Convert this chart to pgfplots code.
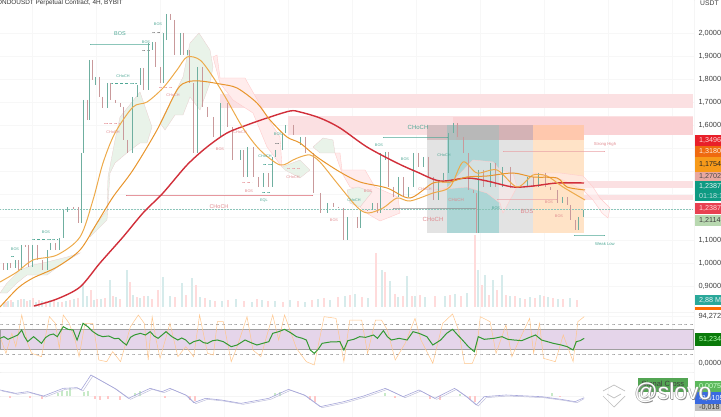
\documentclass[border=0pt]{standalone}
\usepackage{pgfplots}
\pgfplotsset{compat=1.18}
\usepackage{pgfplotstable}
\usepackage{fontspec}
\setmainfont{Liberation Sans}
\definecolor{cup}{HTML}{6FAFA0}
\definecolor{cdn}{HTML}{C9999B}
\definecolor{tl}{HTML}{4FA795}
\definecolor{pk}{HTML}{E08A8F}
\definecolor{zone}{HTML}{FBE0E2}
\definecolor{zone2}{HTML}{FAD2D5}
\definecolor{ma1}{HTML}{EDAA4A}
\definecolor{ma2}{HTML}{E8952C}
\definecolor{ma3}{HTML}{D12F3A}
\definecolor{rsib}{HTML}{E5D5EA}
\definecolor{lnred}{HTML}{D9606A}
\definecolor{lnpk}{HTML}{E9A0A5}
\definecolor{lndot}{HTML}{8CC5BA}
\definecolor{lngray}{HTML}{8A8A8A}
\definecolor{lnd}{HTML}{A0A0A0}
\definecolor{lnsep}{HTML}{EFEFEF}
\pgfplotstableread{
x t b
7 263 270
15 260 268
21 245 270
32 245 267
47 250 270
50 243 250
59 238 250
63 210 238
67 207 212
81 153 223
83 100 153
89 60 120
95 77 85
107 83 108
132 97 153
137 85 97
140 68 85
148 43 90
152 42 50
163 33 83
166 14 40
180 33 55
187 50 55
197 67 153
220 103 137
240 150 160
247 147 177
263 173 187
272 157 187
275 150 157
282 133 150
285 125 133
300 137 145
327 203 213
347 217 240
360 210 228
372 203 210
380 153 213
385 152 160
398 177 197
408 187 197
413 153 187
423 157 167
438 180 200
443 173 180
448 133 173
453 123 133
478 170 233
490 163 187
502 167 187
527 177 187
538 173 187
562 197 203
578 217 230
583 210 217
}\candup
\pgfplotstableread{
x t b
3 263 270
10 263 268
18 260 270
25 245 247
28 245 267
37 245 260
42 260 270
55 243 250
73 207 209
78 207 223
87 100 120
92 60 80
99 77 97
102 97 108
110 83 100
115 100 103
120 103 107
123 107 140
127 140 153
143 68 90
155 42 67
160 67 83
170 14 20
174 20 55
183 33 55
189 50 83
193 83 153
202 67 107
207 107 117
213 117 137
227 103 127
232 127 160
243 150 177
253 147 177
258 177 187
268 173 187
293 125 135
305 137 153
313 153 193
320 193 213
333 203 207
338 207 208
343 208 240
357 217 228
367 210 211
377 203 213
388 152 187
393 187 197
403 177 197
418 153 167
428 157 177
433 177 200
457 123 137
463 137 153
468 153 190
473 190 193
476 193 233
483 170 187
495 163 187
510 167 188
517 187 188
533 177 187
545 173 187
550 187 190
557 190 203
567 197 205
570 205 220
575 220 230
}\canddn
\pgfplotstableread{
x t
4 303
8 301
13 302
18 300
24 299
30 300
36 302
42 301
50 300
58 302
66 301
74 299
83 285
87 296
94 300
101 299
110 280
116 297
127 270
133 295
140 298
148 296
163 277
170 296
182 283
192 278
200 297
210 300
222 301
236 299
252 302
262 300
275 301
290 300
305 302
318 299
330 300
345 296
355 294
368 298
382 270
390 281
398 297
407 276
415 296
425 297
445 296
455 294
467 293
478 270
485 275
493 280
502 275
510 296
520 298
530 297
540 295
548 297
558 299
570 298
}\volup
\pgfplotstableread{
x t
6 302
11 300
21 299
27 301
33 298
39 300
46 301
54 299
62 302
70 300
78 298
91 290
97 299
105 298
113 296
120 299
130 282
137 297
144 296
152 299
158 290
175 297
186 295
196 285
205 298
215 301
228 300
244 301
257 299
268 301
283 302
298 301
312 300
324 298
338 297
350 295
362 297
376 253
385 272
395 294
403 296
412 296
420 295
435 296
450 295
461 296
475 235
482 285
489 295
497 290
506 295
515 296
525 299
535 298
544 296
553 298
563 299
577 300
}\voldn
\begin{document}
\begin{tikzpicture}
\clip (0,0) rectangle (721pt,417pt);
\begin{axis}[
  at={(0,0)},anchor=south west,
  scale only axis,width=694pt,height=417pt,
  xmin=0,xmax=694,ymin=0,ymax=417,y dir=reverse,
  clip=false,
  axis line style={draw=none},
  tick style={draw=none},
  xtick={32,96,160,224,288,352,416,480,544,608,672},
  xticklabels={},
  ytick={33,56,79,102,125,148,171,194,217,240,263,286,316,363},
  yticklabels={{2,0000},{1,9000},{1,8000},{1,7000},{1,6000},{},{},{},{},{1,1000},{1,0000},{0,9000},{94,272},{0,0000}},
  yticklabel pos=right,
  yticklabel style={font=\fontsize{7.4}{8}\selectfont,text=black!75,anchor=west,xshift=1pt},
  major grid style={draw=black!3,line width=.4pt},
  grid=major,
]
% --- supply zones
\addplot[fill=zone,draw=none,forget plot] coordinates {(220,94)(693,94)(693,108)(220,108)} -- cycle;
\addplot[fill=zone,draw=none,forget plot] coordinates {(288,116)(693,116)(693,135)(288,135)} -- cycle;
\addplot[fill=zone2,draw=none,forget plot] coordinates {(453,117)(693,117)(693,135)(453,135)} -- cycle;
\addplot[fill=zone,draw=none,forget plot] coordinates {(580,181)(693,181)(693,188)(580,188)} -- cycle;
\addplot[fill=zone,draw=none,forget plot] coordinates {(580,195)(693,195)(693,200)(580,200)} -- cycle;
% --- date range boxes
\addplot[fill=black!11,draw=none,forget plot] coordinates {(427,140)(447,140)(447,233)(427,233)} -- cycle;
\addplot[fill=teal!32!white,draw=none,forget plot] coordinates {(447,140)(499,140)(499,233)(447,233)} -- cycle;
\addplot[fill=black!11,draw=none,forget plot] coordinates {(499,140)(533,140)(533,233)(499,233)} -- cycle;
\addplot[fill=orange!22!white,draw=none,forget plot] coordinates {(533,140)(584,140)(584,233)(533,233)} -- cycle;
\addplot[fill=black!15!zone,draw=none,forget plot] coordinates {(427,125)(447,125)(447,140)(427,140)} -- cycle;
\addplot[fill=teal!30!black!30,draw=none,forget plot] coordinates {(447,125)(456,125)(456,140)(447,140)} -- cycle;
\addplot[fill=black!28,draw=none,forget plot] coordinates {(456,125)(499,125)(499,140)(456,140)} -- cycle;
\addplot[fill=black!15!zone2,draw=none,forget plot] coordinates {(499,125)(533,125)(533,140)(499,140)} -- cycle;
\addplot[fill=red!35!orange!32,draw=none,forget plot] coordinates {(533,125)(584,125)(584,140)(533,140)} -- cycle;
% --- ichimoku cloud
\pgfplotsset{gc/.style={fill=green!30!gray!13,draw=red!35!gray!28,line width=.3pt,forget plot},
             pc/.style={fill=red!55!pink!11,draw=red!50!pink!32,line width=.4pt,forget plot}}
\addplot[gc] coordinates {(0,293)(7,283)(20,270)(33,265)(47,262)(67,257)(80,253)(63,263)(47,275)(27,275)(17,283)(7,293)} -- cycle;
\addplot[gc] coordinates {(90,233)(107,210)(108,177)(115,140)(120,117)(140,92)(152,127)(147,143)(140,143)(128,152)(115,163)(110,173)(107,220)(90,237)} -- cycle;
\addplot[gc] coordinates {(160,123)(170,103)(183,77)(190,43)(199,33)(210,50)(213,67)(210,83)(200,110)(190,97)(183,115)(175,115)(165,130)} -- cycle;
\addplot[pc] coordinates {(213,57)(217,55)(220,78)(245,78)(267,117)(280,137)(282,167)(267,147)(253,113)(233,100)(220,83)} -- cycle;
\addplot[gc] coordinates {(282,167)(300,160)(310,170)(300,178)(285,170)} -- cycle;
\addplot[gc] coordinates {(313,147)(323,138)(333,140)(335,153)(320,153)} -- cycle;
\addplot[pc] coordinates {(335,153)(340,153)(342,170)(365,170)(375,187)(398,197)(400,213)(380,221)(368,214)(360,207)(372,192)(350,187)(342,173)} -- cycle;
\addplot[gc] coordinates {(347,190)(358,187)(372,192)(360,207)(350,203)} -- cycle;
\addplot[pc,fill opacity=.5] coordinates {(433,190)(447,188)(457,177)(473,160)(493,162)(500,170)(513,173)(517,187)(503,213)(500,203)(487,193)(467,187)} -- cycle;
\addplot[pc,fill opacity=.6] coordinates {(533,173)(560,173)(583,176)(593,187)(600,198)(610,208)(608,218)(602,213)(593,200)(583,190)(563,180)} -- cycle;
% --- structure lines
\pgfplotsset{hl/.style={forget plot,smooth}}
\addplot[tl,hl,line width=.8pt] table[row sep=\\] {90 44\\150 44\\};
\addplot[tl,hl,line width=.8pt] table[row sep=\\] {383 137\\448 137\\};
\addplot[lnred,hl,line width=.7pt] table[row sep=\\] {126 195\\313 195\\};
\addplot[lngray,hl,line width=.6pt] table[row sep=\\] {393 208\\477 208\\};
\addplot[lnpk,hl,line width=.6pt] table[row sep=\\] {503 151\\605 151\\};
\addplot[lnpk,hl,line width=.6pt] table[row sep=\\] {497 199\\557 199\\};
\addplot[tl,hl,line width=.8pt] table[row sep=\\] {574 235\\605 235\\};
\addplot[lndot,hl,densely dotted,line width=.5pt] table[row sep=\\] {0 209\\693 209\\};
\pgfplotsset{dd/.style={hl,densely dashed,line width=.45pt}}
\addplot[lngray,dd] table[row sep=\\] {152 32\\162 32\\};
\addplot[lngray,dd] table[row sep=\\] {142 50\\150 50\\};
\addplot[tl,dd] table[row sep=\\] {110 83\\137 83\\};
\addplot[lnpk,dd] table[row sep=\\] {159 87\\173 87\\};
\addplot[lnpk,dd] table[row sep=\\] {104 123\\120 123\\};
\addplot[tl,dd] table[row sep=\\] {32 239\\58 239\\};
\addplot[tl,dd] table[row sep=\\] {11 256\\15 256\\};
\addplot[lnpk,dd] table[row sep=\\] {242 182\\252 182\\};
\addplot[tl,dd] table[row sep=\\] {262 192\\270 192\\};
\addplot[tl,dd] table[row sep=\\] {263 164\\272 164\\};
\addplot[lngray,dd] table[row sep=\\] {275 143\\280 143\\};
\addplot[lnpk,dd] table[row sep=\\] {287 168\\300 168\\};
% --- RSI panel background, MACD zero and separators
\addplot[fill=rsib,draw=lnd,line width=.5pt,forget plot] coordinates {(0,329)(693,329)(693,349)(0,349)} -- cycle;
\addplot[lnd,hl,dashed,line width=.5pt] table[row sep=\\] {0 324\\693 324\\};
\addplot[lnd,hl,dashed,line width=.5pt] table[row sep=\\] {0 354\\693 354\\};
\addplot[lnsep,hl,line width=.4pt] table[row sep=\\] {0 396\\584 396\\};
\addplot[lnsep,hl,line width=.4pt] table[row sep=\\] {0 312\\694 312\\};
\addplot[lnsep,hl,line width=.4pt] table[row sep=\\] {0 372\\694 372\\};
\addplot[lnsep,hl,line width=.4pt] table[row sep=\\] {694 0\\694 417\\};
% --- volume
\addplot[draw=none,mark=none,forget plot,error bars/.cd,y dir=plus,y explicit,error mark=none,error bar style={draw=teal!16,line width=1.3pt}] table[x=x,y=t,y error expr=307-\thisrow{t}] {\volup};
\addplot[draw=none,mark=none,forget plot,error bars/.cd,y dir=plus,y explicit,error mark=none,error bar style={draw=red!14,line width=1.3pt}] table[x=x,y=t,y error expr=307-\thisrow{t}] {\voldn};
% --- candles
\addplot[draw=none,mark=none,forget plot,error bars/.cd,y dir=plus,y explicit,error mark=none,error bar style={draw=cup,line width=1pt}] table[x=x,y=t,y error expr=\thisrow{b}-\thisrow{t}] {\candup};
\addplot[draw=none,mark=none,forget plot,error bars/.cd,y dir=plus,y explicit,error mark=none,error bar style={draw=cdn,line width=1pt}] table[x=x,y=t,y error expr=\thisrow{b}-\thisrow{t}] {\canddn};
% --- moving averages
\addplot[ma3,line width=1.4pt,smooth,forget plot] coordinates {(34,306)(57,299)(80,287)(100,263)(123,237)(143,213)(163,193)(187,165)(207,147)(227,133)(247,125)(267,118)(290,111)(300,112)(320,118)(340,128)(367,147)(397,163)(417,172)(440,181)(467,178)(487,181)(513,187)(533,186)(557,183)(584,183)};
\addplot[ma1,line width=1pt,smooth,forget plot] coordinates {(0,282)(17,272)(33,260)(57,255)(80,237)(93,200)(103,163)(115,133)(133,107)(147,102)(163,88)(177,70)(187,57)(200,60)(213,77)(227,100)(243,128)(260,150)(280,165)(293,160)(300,157)(310,155)(320,162)(337,183)(357,207)(368,213)(383,208)(397,198)(410,201)(433,193)(450,187)(463,162)(477,173)(497,170)(517,187)(533,175)(547,176)(563,187)(585,200)};
\addplot[ma2,line width=1pt,smooth,forget plot] coordinates {(0,307)(18,288)(33,278)(57,267)(80,250)(97,223)(113,197)(133,170)(157,130)(177,90)(187,82)(200,81)(220,84)(237,88)(257,103)(270,120)(287,137)(300,143)(317,157)(340,172)(360,182)(387,188)(410,198)(433,183)(450,182)(467,177)(487,176)(513,173)(533,177)(557,178)(567,187)(585,190)};
% --- RSI lines
\addplot[orange!45!white,line width=.5pt,forget plot] table[x expr=\thisrowno{0}/2.53,y expr=290+\thisrowno{1}/3] {
0 140
15 190
30 130
40 170
55 75
70 160
80 190
105 200
125 80
140 100
150 175
160 75
175 100
190 150
200 200
215 100
235 100
250 210
270 215
285 185
305 215
330 110
350 75
365 100
375 210
385 80
395 150
405 205
430 100
450 200
470 170
490 200
505 75
525 190
540 195
550 95
565 95
585 215
600 170
625 80
640 180
660 200
690 75
705 150
720 75
750 175
775 215
795 225
820 80
850 85
870 215
885 90
915 90
930 190
950 90
965 90
980 120
1000 210
1025 160
1050 85
1065 150
1095 220
1120 100
1145 72
1160 120
1175 220
1195 220
1205 190
1215 80
1240 95
1255 190
1280 105
1295 200
1310 160
1340 85
1350 190
1365 100
1375 205
1405 215
1425 135
1450 215
1462 95
1478 80
};
\addplot[green!50!black!80,line width=1pt,forget plot] table[x expr=\thisrowno{0}/2.53,y expr=290+\thisrowno{1}/3] {
0 145
10 140
20 148
32 142
45 135
55 120
62 140
70 155
85 140
95 150
105 160
115 143
125 135
135 132
145 140
160 110
172 118
185 120
195 150
210 100
222 110
235 125
248 135
260 140
275 138
290 146
300 145
312 158
320 165
330 142
340 135
355 130
368 135
380 125
390 138
400 145
410 135
420 125
435 140
450 150
460 144
470 150
480 162
490 155
505 150
515 158
525 160
538 152
550 150
565 155
585 170
600 165
620 150
635 158
650 165
665 160
680 155
690 130
705 125
720 118
735 128
750 140
765 145
775 150
785 180
795 190
805 178
815 160
835 156
860 155
870 180
880 152
895 148
910 140
925 142
945 135
955 145
970 122
980 140
990 150
1010 145
1030 150
1045 125
1060 130
1080 140
1095 165
1115 150
1130 130
1145 118
1158 135
1170 150
1185 170
1200 185
1210 140
1225 148
1250 145
1270 140
1285 148
1300 150
1320 152
1340 142
1355 135
1370 150
1385 155
1400 160
1420 165
1435 170
1450 180
1458 155
1468 152
1478 145
};
% --- MACD
\addplot[draw=none,mark=none,forget plot,error bars/.cd,y dir=minus,y explicit,error mark=none,error bar style={draw=green!45!gray!30,line width=1.2pt}] table[x=x,y=y,y error expr=\thisrow{y}-\thisrow{t}] {
x y t
58 396 393
62 396 391
67 396 391
70 396 388
84 396 392
88 396 391
135 396 393
140 396 391
275 396 393
280 396 392
385 396 393
460 396 394
552 396 393
};
\addplot[draw=none,mark=none,forget plot,error bars/.cd,y dir=plus,y explicit,error mark=none,error bar style={draw=red!22,line width=1.2pt}] table[x=x,y=y,y error expr=\thisrow{t}-\thisrow{y}] {
x y t
10 396 398
30 396 398
42 396 399
95 396 399
100 396 400
108 396 399
120 396 400
165 396 398
190 396 400
195 396 401
310 396 400
315 396 402
395 396 398
430 396 399
440 396 400
470 396 400
475 396 402
560 396 397
};
\addplot[blue!30!gray!40,line width=.5pt,forget plot] table[x expr=(\thisrowno{0}+5)/2.53,y expr=290+\thisrowno{1}/3+1] {
0 300
40 310
70 305
110 318
160 295
195 293
205 300
230 255
260 275
290 295
325 325
380 295
410 305
430 295
470 315
490 338
520 325
560 330
610 340
680 325
730 298
770 315
810 350
870 335
920 318
975 295
1020 320
1060 300
1100 325
1150 295
1180 320
1205 345
1225 320
1280 315
1370 320
1420 328
1455 335
1473 323
};
\addplot[blue!40!gray!50,line width=.6pt,forget plot] table[x expr=\thisrowno{0}/2.53,y expr=290+\thisrowno{1}/3] {
0 300
40 310
70 305
110 318
160 295
195 293
205 300
230 255
260 275
290 295
325 325
380 295
410 305
430 295
470 315
490 338
520 325
560 330
610 340
680 325
730 298
770 315
810 350
870 335
920 318
975 295
1020 320
1060 300
1100 325
1150 295
1180 320
1205 345
1225 320
1280 315
1370 320
1420 328
1455 335
1478 323
};
% --- labels
\newcommand\lb[5]{\node[font=\fontsize{#4}{#4}\selectfont,text=#3,inner sep=0pt] at (axis cs:#1,#2) {#5};}
\lb{120}{34}{tl}{5.5}{BOS}
\lb{158}{24}{tl}{3.8}{BOS}
\lb{146}{42}{tl}{3.8}{BOS}
\lb{123}{76}{tl}{3.8}{CHoCH}
\lb{113}{132}{pk}{3.8}{CHoCH}
\lb{173}{95}{pk}{3.8}{CHoCH}
\lb{46}{232}{tl}{3.8}{BOS}
\lb{15}{249}{tl}{3.8}{BOS}
\lb{219}{207}{pk}{5.5}{CHoCH}
\lb{220}{149}{pk}{3.8}{BOS}
\lb{249}{191}{pk}{3.8}{BOS}
\lb{264}{201}{tl}{3.8}{EQL}
\lb{265}{156}{tl}{3.8}{CHoCH}
\lb{278}{134}{tl}{3.8}{BOS}
\lb{293}{177}{pk}{3.8}{CHoCH}
\lb{240}{132}{pk}{3.8}{CHoCH}
\lb{418}{127}{tl}{6}{CHoCH}
\lb{379}{145}{tl}{3.8}{BOS}
\lb{405}{159}{tl}{3.8}{BOS}
\lb{444}{155}{tl}{3.8}{CHoCH}
\lb{354}{200}{tl}{3.8}{CHoCH}
\lb{368}{191}{pk}{3.8}{BOS}
\lb{334}{220}{pk}{3.8}{BOS}
\lb{433}{219}{pk}{6}{CHoCH}
\lb{456}{200}{pk}{4.5}{CHoCH}
\lb{425}{189}{pk}{3.8}{CHoCH}
\lb{527}{211}{pk}{6}{BOS}
\lb{496}{208}{tl}{3.8}{BOS}
\lb{549}{202}{pk}{3.8}{BOS}
\lb{559}{216}{pk}{3.8}{BOS}
\lb{605}{144}{pk}{4.2}{Strong High}
\lb{605}{244}{tl}{4.2}{Weak Low}
\node[anchor=west,inner sep=0pt,font=\fontsize{6.4}{7}\selectfont,text=black!80] at (axis cs:-3,3) {ONDOUSDT Perpetual Contract, 4H, BYBIT};
\node[anchor=west,inner sep=0pt,font=\fontsize{6.8}{7}\selectfont,text=black!75] at (axis cs:700,3) {USDT};
% --- price badges
\newcommand\bd[5]{\fill[#3] (axis cs:694.5,#1) rectangle (axis cs:725,#2);\node[anchor=west,inner sep=0pt,font=\fontsize{7.2}{8}\selectfont,text=#4] at (axis cs:699,{(#1+#2)/2}) {#5};}
\definecolor{b1}{HTML}{E8202A}\definecolor{b2}{HTML}{EF6A10}\definecolor{b3}{HTML}{F79A1A}\definecolor{b4}{HTML}{E8A8A0}\definecolor{b5}{HTML}{0E9A82}\definecolor{b6}{HTML}{E84050}\definecolor{b7}{HTML}{B8D8B0}\definecolor{b8}{HTML}{2AA89A}\definecolor{b9}{HTML}{0A7A0A}\definecolor{b10}{HTML}{5CB85C}\definecolor{b11}{HTML}{3A6AE0}
\bd{135}{146}{b1}{white!85!red}{1,3496}
\bd{146}{157}{b2}{white!85!orange}{1,3180}
\bd{157}{172}{b3}{black!85}{1,1754}
\bd{172}{181}{b4}{black!70}{1,2702}
\bd{181}{191}{b5}{white!90!teal}{1,2387}
\bd{191}{201}{b5}{white!75!teal}{01:18:11}
\bd{203}{214}{b6}{white!85!red}{1,2387}
\bd{215}{226}{b7}{black!75}{1,2114}
\bd{295}{305}{b8}{white!90!teal}{2,88 M}
\fill[orange!85!red] (axis cs:694.5,307) rectangle (axis cs:725,310);
\bd{333}{346}{b9}{white!70!green}{51,234}
\bd{381}{392}{b10}{white!80!green}{0,0075}
\bd{392}{404}{b11}{white}{-0,0105}
\bd{404}{411}{black!25}{black!80}{-0,018}
% --- signal cross and watermark
\fill[b10!90!black] (axis cs:638,378) rectangle (axis cs:688,392);
\node[inner sep=0pt,font=\fontsize{7.5}{8}\selectfont,text=black!75] at (axis cs:663,385) {Signal Cross};
\draw[black!25,line width=.7pt] (axis cs:603,391)--(axis cs:614,385)--(axis cs:625,391) (axis cs:607,394)--(axis cs:614,398)--(axis cs:621,394) (axis cs:603,396)--(axis cs:614,407)--(axis cs:625,396);
\node[inner sep=0pt,font=\fontsize{23}{24}\selectfont,text=black!45] at (axis cs:673.6,393.6) {@slovo};
\node[inner sep=0pt,font=\fontsize{23}{24}\selectfont,text=black!45] at (axis cs:672.4,392.4) {@slovo};
\node[inner sep=0pt,font=\fontsize{23}{24}\selectfont,text=white] at (axis cs:673,393) {@slovo};
\end{axis}
\end{tikzpicture}
\end{document}
